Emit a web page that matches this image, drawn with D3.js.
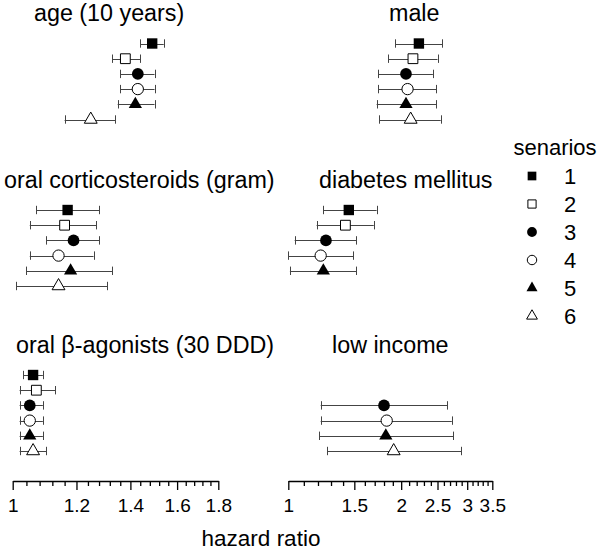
<!DOCTYPE html>
<html>
<head>
<meta charset="utf-8">
<script src="https://cdn.jsdelivr.net/npm/d3@7"></script>
<style>
  body { margin: 0; background: #fff; }
  svg { display: block; font-family: "Liberation Sans", Arial, sans-serif; }
</style>
</head>
<body>
<div id="chart"></div>
<script>
// scenarios shown in the legend
var scenarios = ["1", "2", "3", "4", "5", "6"];
var panelTitles = ["age (10 years)", "male", "oral corticosteroids (gram)",
  "diabetes mellitus", "oral \u03b2-agonists (30 DDD)", "low income"];

// hazard ratio estimates with lower / upper limits, one value per scenario
var ageHR = [1.49, 1.38, 1.43, 1.43, 1.42, 1.25];
var ageLo = [1.44, 1.33, 1.36, 1.36, 1.35, 1.16];
var ageHi = [1.54, 1.44, 1.50, 1.50, 1.50, 1.34];

var maleHR = [2.23, 2.15, 2.06, 2.08, 2.06, 2.12];
var maleLo = [1.93, 1.85, 1.74, 1.74, 1.72, 1.75];
var maleHi = [2.57, 2.50, 2.43, 2.48, 2.48, 2.55];

var corticoHR = [1.17, 1.16, 1.19, 1.14, 1.18, 1.14];
var corticoLo = [1.07, 1.05, 1.10, 1.05, 1.04, 1.01];
var corticoHi = [1.28, 1.27, 1.28, 1.26, 1.33, 1.31];

var diabetesHR = [1.45, 1.42, 1.26, 1.22, 1.24, null];
var diabetesLo = [1.24, 1.19, 1.04, 1.00, 1.01, null];
var diabetesHi = [1.72, 1.69, 1.52, 1.49, 1.52, null];

var betaHR = [1.06, 1.07, 1.05, 1.05, 1.05, 1.06];
var betaLo = [1.03, 1.02, 1.02, 1.02, 1.02, 1.02];
var betaHi = [1.09, 1.13, 1.09, 1.09, 1.09, 1.10];

var incomeHR = [null, null, 1.80, 1.83, 1.82, 1.91];
var incomeLo = [null, null, 1.22, 1.22, 1.21, 1.27];
var incomeHi = [null, null, 2.65, 2.73, 2.75, 2.89];

// axis ticks
var leftTicks = [1, 1.2, 1.4, 1.6, 1.8];
var rightTicks = [1, 1.5, 2, 2.5, 3, 3.5];
var leftMinor = [1.04, 1.08, 1.12, 1.16, 1.24, 1.28, 1.32, 1.36, 1.44, 1.48, 1.52, 1.56, 1.64, 1.68, 1.72, 1.76];
var rightMinor = [1.1, 1.2, 1.3, 1.4, 1.6, 1.7, 1.8, 1.9, 2.1, 2.2, 2.3, 2.4, 2.6, 2.7, 2.8, 2.9, 3.1, 3.2, 3.3, 3.4];

var width = 600, height = 551;
var font = "\"Liberation Sans\", Arial, sans-serif";

var svg = d3.select("#chart").append("svg")
  .attr("width", width)
  .attr("height", height);

// two columns, both log scaled
var xLeft = d3.scaleLog().domain([1, 1.8]).range([12.7, 218.3]);
var xRight = d3.scaleLog().domain([1, 3.5]).range([288.3, 492.3]);

var panelTop = [0, 166.5, 331.5];
var titleX = [34, 389, 4, 319, 16, 332];

var panels = [
  { hr: ageHR, lo: ageLo, hi: ageHi, x: xLeft, row: 0 },
  { hr: maleHR, lo: maleLo, hi: maleHi, x: xRight, row: 0 },
  { hr: corticoHR, lo: corticoLo, hi: corticoHi, x: xLeft, row: 1 },
  { hr: diabetesHR, lo: diabetesLo, hi: diabetesHi, x: xRight, row: 1 },
  { hr: betaHR, lo: betaLo, hi: betaHi, x: xLeft, row: 2 },
  { hr: incomeHR, lo: incomeLo, hi: incomeHi, x: xRight, row: 2 }
];

// marker for each scenario (R pch 15, 0, 16, 1, 17, 2)
function markerPath(i, scale) {
  var types = [d3.symbolSquare, d3.symbolSquare, d3.symbolCircle, d3.symbolCircle, d3.symbolTriangle, d3.symbolTriangle];
  var sizes = [108, 96, 108, 100, 76, 72];
  return d3.symbol().type(types[i]).size(sizes[i] * scale)();
}
function isFilled(i) { return i % 2 === 0; }

panels.forEach(function(p, k) {
  var top = panelTop[p.row];
  var y = d3.scalePoint().domain(scenarios).range([top + 43.5, top + 43.5 + 15.2 * 5]);
  var g = svg.append("g");

  g.append("text")
    .attr("x", titleX[k])
    .attr("y", top + 21)
    .style("font-size", "23.3px")
    .style("fill", "#000")
    .text(panelTitles[k]);

  var rows = scenarios.map(function(s, i) {
    return { s: s, i: i, hr: p.hr[i], lo: p.lo[i], hi: p.hi[i] };
  }).filter(function(d) { return d.hr !== null; });

  var bar = g.selectAll(".ci").data(rows).enter().append("g").attr("class", "ci");

  bar.append("line")
    .attr("x1", function(d) { return p.x(d.lo); })
    .attr("x2", function(d) { return p.x(d.hi); })
    .attr("y1", function(d) { return Math.round(y(d.s)) + 0.5; })
    .attr("y2", function(d) { return Math.round(y(d.s)) + 0.5; })
    .attr("stroke", "#444").attr("stroke-width", 1);

  ["lo", "hi"].forEach(function(end) {
    bar.append("line")
      .attr("x1", function(d) { return Math.round(p.x(d[end])) + 0.5; })
      .attr("x2", function(d) { return Math.round(p.x(d[end])) + 0.5; })
      .attr("y1", function(d) { return y(d.s) - 4.2; })
      .attr("y2", function(d) { return y(d.s) + 4.2; })
      .attr("stroke", "#444").attr("stroke-width", 1);
  });

  bar.append("path")
    .attr("transform", function(d) { return "translate(" + p.x(d.hr) + "," + y(d.s) + ")"; })
    .attr("d", function(d) { return markerPath(d.i, 1); })
    .attr("fill", function(d) { return isFilled(d.i) ? "#000" : "#fff"; })
    .attr("stroke", "#000")
    .attr("stroke-width", function(d) { return isFilled(d.i) ? 0 : 1; });
});

// bottom axes
var axisY = 481;
function drawAxis(x, ticks, minor) {
  var major = svg.append("g")
    .attr("transform", "translate(0," + axisY + ")")
    .call(d3.axisBottom(x).tickValues(ticks).tickFormat(function(d) { return d; })
      .tickSize(9).tickSizeOuter(0).tickPadding(9));
  major.select(".domain").attr("stroke", "#000").attr("stroke-width", 1.3);
  major.selectAll(".tick line").attr("stroke", "#000").attr("stroke-width", 1.3);
  major.selectAll(".tick text")
    .style("font-family", font)
    .style("font-size", "19px")
    .attr("fill", "#000");

  var mg = svg.append("g")
    .attr("transform", "translate(0," + axisY + ")")
    .call(d3.axisBottom(x).tickValues(minor).tickFormat("").tickSize(5).tickSizeOuter(0));
  mg.select(".domain").remove();
  mg.selectAll(".tick line").attr("stroke", "#000").attr("stroke-width", 1.3);
}
drawAxis(xLeft, leftTicks, leftMinor);
drawAxis(xRight, rightTicks, rightMinor);

svg.append("text")
  .attr("x", 261)
  .attr("y", 546)
  .attr("text-anchor", "middle")
  .style("font-size", "22.5px")
  .text("hazard ratio");

// legend
var legend = svg.append("g");
legend.append("text")
  .attr("x", 555)
  .attr("y", 155)
  .attr("text-anchor", "middle")
  .style("font-size", "22px")
  .text("senarios");

var ly = d3.scalePoint().domain(scenarios).range([176, 176 + 28 * 5]);
var item = legend.selectAll(".item").data(scenarios).enter().append("g").attr("class", "item");
item.append("path")
  .attr("transform", function(d) { return "translate(532," + ly(d) + ")"; })
  .attr("d", function(d, i) { return markerPath(i, 0.7); })
  .attr("fill", function(d, i) { return isFilled(i) ? "#000" : "#fff"; })
  .attr("stroke", "#000")
  .attr("stroke-width", function(d, i) { return isFilled(i) ? 0 : 1; });
item.append("text")
  .attr("x", 570)
  .attr("y", function(d) { return ly(d); })
  .attr("dy", "0.36em")
  .attr("text-anchor", "middle")
  .style("font-size", "22px")
  .text(function(d) { return d; });
</script>
</body>
</html>
